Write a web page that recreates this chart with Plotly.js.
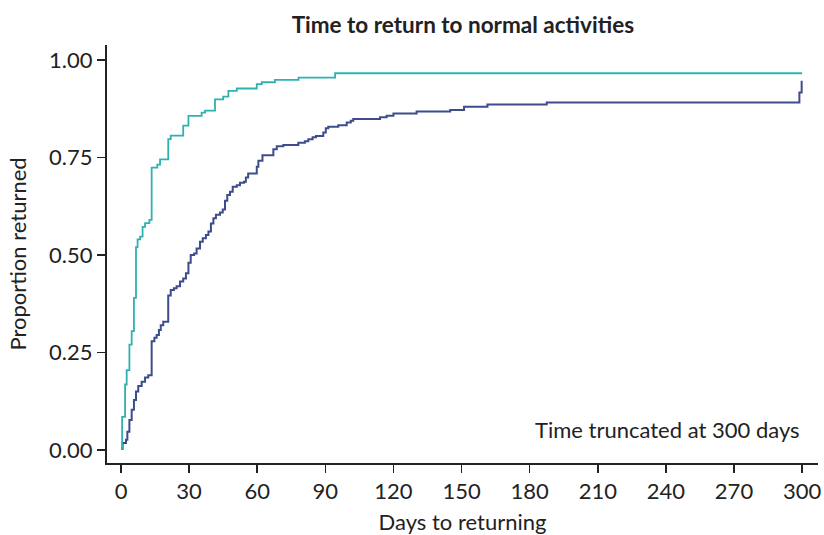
<!DOCTYPE html>
<html>
<head>
<meta charset="utf-8">
<script src="https://cdn.plot.ly/plotly-3.0.1.min.js"></script>
<style>html,body{margin:0;padding:0;background:#fff;}#chart{width:824px;height:535px;}</style>
</head>
<body>
<div id="chart"></div>
<script>
// Teal group (faster return)
var tealDays = [0, 0.5, 1.8, 2.5, 3.7, 4.7, 5.7, 6.6, 7.3, 8.4, 9.5, 10.6, 12.5, 13.5, 16, 17.2, 20.8, 21.9, 27.4, 29.7, 35.5, 37, 41.4, 45, 47.3, 51, 59.8, 62, 67.8, 78.2, 94.3, 300];
var tealProp = [0.005, 0.085, 0.168, 0.205, 0.27, 0.305, 0.39, 0.52, 0.54, 0.547, 0.572, 0.582, 0.59, 0.724, 0.732, 0.745, 0.797, 0.806, 0.832, 0.857, 0.865, 0.87, 0.899, 0.906, 0.921, 0.927, 0.938, 0.943, 0.949, 0.955, 0.966, 0.966];

// Navy group (slower return)
var navyDays = [0, 0.7, 2.2, 2.8, 3.7, 4.7, 5.7, 6.6, 7.6, 9.1, 10.6, 12, 13.5, 14.7, 15.7, 16.7, 17.5, 18.6, 20.8, 21.9, 23.3, 24.5, 26, 27.4, 28.6, 29.7, 30.7, 32.2, 33.3, 34.8, 36, 37.4, 38.5, 39.6, 40.7, 41.8, 43.6, 44.8, 45.8, 46.8, 48, 49.2, 51, 52.4, 54.2, 55, 56, 59.8, 60.5, 62.3, 67.1, 68.6, 71.5, 78.1, 81, 82.5, 84.4, 85.9, 89.1, 90.2, 91.3, 95.7, 99.4, 101.2, 102.3, 114.1, 117, 120, 130.2, 145, 151.1, 161.4, 187.5, 298.8, 299.8];
var navyProp = [0.003, 0.018, 0.026, 0.047, 0.077, 0.103, 0.128, 0.15, 0.164, 0.175, 0.186, 0.192, 0.279, 0.288, 0.295, 0.308, 0.32, 0.329, 0.396, 0.41, 0.415, 0.42, 0.432, 0.44, 0.453, 0.48, 0.5, 0.504, 0.517, 0.534, 0.543, 0.551, 0.56, 0.581, 0.594, 0.603, 0.609, 0.617, 0.639, 0.654, 0.662, 0.675, 0.679, 0.685, 0.688, 0.699, 0.709, 0.726, 0.742, 0.756, 0.771, 0.779, 0.782, 0.788, 0.792, 0.797, 0.802, 0.805, 0.814, 0.825, 0.829, 0.833, 0.84, 0.844, 0.849, 0.853, 0.857, 0.863, 0.868, 0.872, 0.88, 0.886, 0.891, 0.917, 0.947];

var xTicks = [0, 30, 60, 90, 120, 150, 180, 210, 240, 270, 300];
var yTicks = [0, 0.25, 0.5, 0.75, 1];
var yTickLabels = ["0.00", "0.25", "0.50", "0.75", "1.00"];

var font = "Lato, 'Open Sans', sans-serif";

var traces = [
  {x: navyDays, y: navyProp, type: 'scatter', mode: 'lines', line: {shape: 'hv', color: '#3d4c8a', width: 2}, hoverinfo: 'skip'},
  {x: tealDays, y: tealProp, type: 'scatter', mode: 'lines', line: {shape: 'hv', color: '#2eb2b0', width: 1.8}, hoverinfo: 'skip'}
];

var layout = {
  width: 824, height: 535,
  margin: {l: 107, r: 6, t: 45, b: 72},
  paper_bgcolor: '#fff', plot_bgcolor: '#fff',
  showlegend: false,
  font: {family: font, color: '#222', size: 22},
  title: {text: '<b>Time to return to normal activities</b>', font: {family: font, size: 22.5, color: '#222'}, x: 0.5617, xref: 'container', y: 0.953, yref: 'container', yanchor: 'middle', xanchor: 'center'},
  xaxis: {
    range: [-6.17, 307], tickvals: xTicks, ticktext: xTicks.map(String),
    showline: true, linecolor: '#222', linewidth: 2, ticks: 'outside', ticklen: 8, tickwidth: 1.5, tickcolor: '#222',
    showgrid: false, zeroline: false, tickfont: {size: 22, color: '#222'},
    title: {text: 'Days to returning', font: {size: 22, color: '#222'}, standoff: 20}
  },
  yaxis: {
    range: [-0.0333, 1.0385], tickvals: yTicks, ticktext: yTickLabels,
    showline: true, linecolor: '#222', linewidth: 2, ticks: 'outside', ticklen: 8, tickwidth: 1.5, tickcolor: '#222',
    showgrid: false, zeroline: false, tickfont: {size: 22, color: '#222'},
    title: {text: 'Proportion returned', font: {size: 22, color: '#222'}, standoff: 16}
  },
  annotations: [{
    text: 'Time truncated at 300 days', xref: 'x', yref: 'y', x: 300, y: 0.052,
    xanchor: 'right', yanchor: 'middle', showarrow: false, font: {size: 22, color: '#222'}
  }]
};

Plotly.newPlot('chart', traces, layout, {displayModeBar: false, staticPlot: true});
</script>
</body>
</html>
